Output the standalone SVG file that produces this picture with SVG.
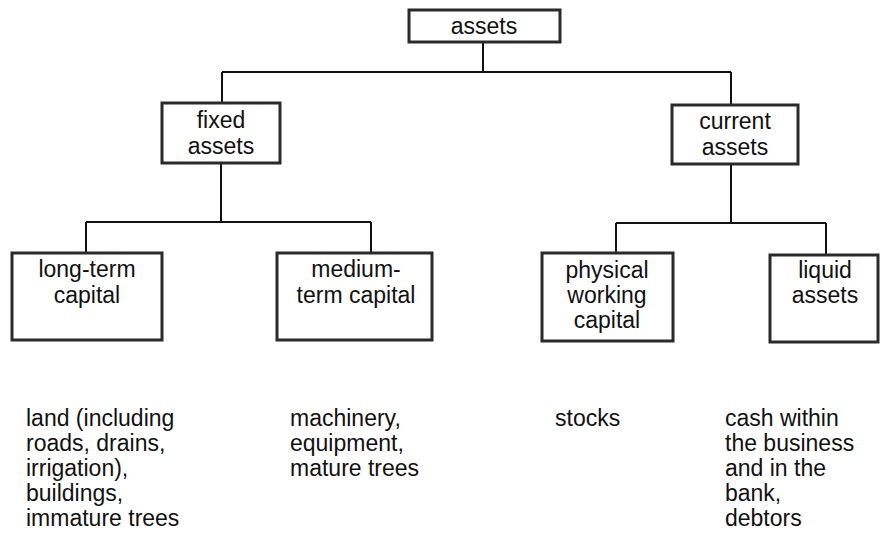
<svg xmlns="http://www.w3.org/2000/svg" width="881" height="534" viewBox="0 0 881 534">
  <style>
    .box { fill: #ffffff; stroke: #2a2a2a; stroke-width: 3; }
    .lbl { font-family: "Liberation Sans", Arial, Helvetica, sans-serif; font-size: 23px; fill: #111111; text-anchor: middle; }
    .note { font-family: "Liberation Sans", Arial, Helvetica, sans-serif; font-size: 23px; fill: #111111; }
    .wire { fill: none; stroke: #111111; stroke-width: 2; }
  </style>
  <rect width="881" height="534" fill="#ffffff"/>

  <!-- tree connectors -->
  <g id="connectors">
    <path class="wire" d="M483 42 V72 M222 72 H731 M222 72 V103 M731 72 V105"/>
    <path class="wire" d="M221 163 V222 M86 222 H371 M86 222 V253 M371 222 V253"/>
    <path class="wire" d="M731 164 V223 M616 223 H826 M616 223 V253 M826 223 V255"/>
  </g>

  <g id="assets">
    <rect class="box" x="409" y="10" width="151" height="32"/>
    <text class="lbl" x="484" y="34">assets</text>
  </g>

  <g id="fixed-assets">
    <rect class="box" x="162" y="103" width="118" height="60"/>
    <text class="lbl" x="221" y="128">fixed</text>
    <text class="lbl" x="221" y="154">assets</text>
  </g>

  <g id="current-assets">
    <rect class="box" x="672" y="105" width="126" height="59"/>
    <text class="lbl" x="735" y="129">current</text>
    <text class="lbl" x="735" y="155">assets</text>
  </g>

  <g id="long-term-capital">
    <rect class="box" x="12" y="253" width="150" height="87"/>
    <text class="lbl" x="87" y="277">long-term</text>
    <text class="lbl" x="87" y="303">capital</text>
  </g>

  <g id="medium-term-capital">
    <rect class="box" x="277" y="253" width="155" height="87"/>
    <text class="lbl" x="356" y="277">medium-</text>
    <text class="lbl" x="356" y="303">term capital</text>
  </g>

  <g id="physical-working-capital">
    <rect class="box" x="542" y="253" width="131" height="88"/>
    <text class="lbl" x="607" y="278">physical</text>
    <text class="lbl" x="607" y="303">working</text>
    <text class="lbl" x="607" y="328">capital</text>
  </g>

  <g id="liquid-assets">
    <rect class="box" x="770" y="255" width="108" height="87"/>
    <text class="lbl" x="825" y="278">liquid</text>
    <text class="lbl" x="825" y="303">assets</text>
  </g>

  <!-- examples under each category -->
  <g id="long-term-examples">
    <text class="note" x="26" y="426">land (including</text>
    <text class="note" x="26" y="451">roads, drains,</text>
    <text class="note" x="26" y="476">irrigation),</text>
    <text class="note" x="26" y="501">buildings,</text>
    <text class="note" x="26" y="526">immature trees</text>
  </g>

  <g id="medium-term-examples">
    <text class="note" x="290" y="426">machinery,</text>
    <text class="note" x="290" y="451">equipment,</text>
    <text class="note" x="290" y="476">mature trees</text>
  </g>

  <g id="working-capital-examples">
    <text class="note" x="555" y="426">stocks</text>
  </g>

  <g id="liquid-examples">
    <text class="note" x="725" y="426">cash within</text>
    <text class="note" x="725" y="451">the business</text>
    <text class="note" x="725" y="476">and in the</text>
    <text class="note" x="725" y="501">bank,</text>
    <text class="note" x="725" y="526">debtors</text>
  </g>
</svg>
